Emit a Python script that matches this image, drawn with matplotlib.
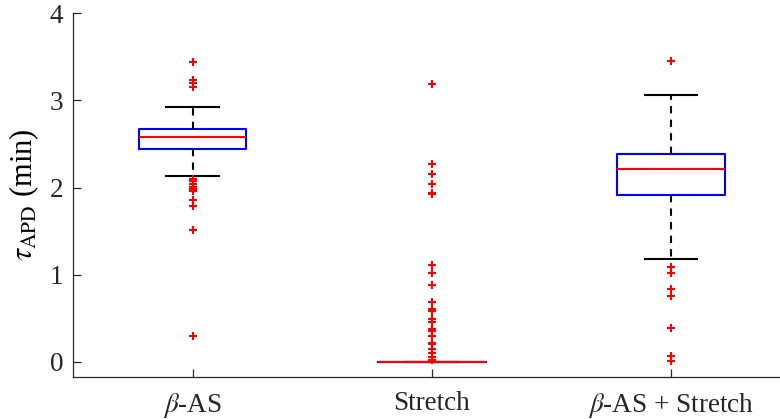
import matplotlib
matplotlib.use("Agg")
import matplotlib.pyplot as plt

plt.rcParams["font.family"] = ["Liberation Serif", "DejaVu Serif"]
plt.rcParams["mathtext.fontset"] = "stix"

# groups and box statistics (tau_APD, minutes)
labels = [r"$\beta$-AS", "Stretch", r"$\beta$-AS + Stretch"]
q1 = [2.44, 0.0, 1.91]
med = [2.58, 0.0, 2.21]
q3 = [2.67, 0.0, 2.39]
whislo = [2.13, 0.0, 1.18]
whishi = [2.92, 0.0, 3.06]

fliers_as = [3.44, 3.24, 3.20, 3.15, 2.10, 2.07, 2.04, 2.01, 1.98, 1.96,
             1.86, 1.79, 1.51, 0.30]
fliers_stretch = [3.19, 2.27, 2.16, 2.04, 1.94, 1.92, 1.11, 1.02, 0.88,
                  0.69, 0.61, 0.58, 0.49, 0.46, 0.38, 0.35, 0.29, 0.22,
                  0.20, 0.15, 0.10, 0.06, 0.02]
fliers_both = [3.45, 1.09, 1.02, 0.84, 0.75, 0.39, 0.07, 0.01]
fliers = [fliers_as, fliers_stretch, fliers_both]

stats = []
for i in range(len(labels)):
    stats.append({
        "label": labels[i],
        "q1": q1[i], "med": med[i], "q3": q3[i],
        "whislo": whislo[i], "whishi": whishi[i],
        "fliers": fliers[i],
    })

fig = plt.figure(figsize=(7.8, 4.19), dpi=100)
ax = fig.add_axes([73 / 780, 1 - 377 / 419, 717.5 / 780, (377 - 13.3) / 419])

ax.bxp(
    stats,
    positions=[1, 2, 3],
    widths=0.45,
    showfliers=True,
    boxprops=dict(color="blue", linewidth=1.5),
    medianprops=dict(color="red", linewidth=1.5),
    whiskerprops=dict(color="black", linestyle=(0, (3.5, 3)), linewidth=1.5),
    capprops=dict(color="black", linewidth=1.5),
    capwidths=0.22,
    flierprops=dict(marker="+", markeredgecolor="red", markersize=6,
                    markeredgewidth=1.5, linestyle="none"),
)

ax.set_xlim(0.5, 3.5)
ax.set_ylim(-0.175, 4)
ax.set_yticks([0, 1, 2, 3, 4])
ax.set_ylabel(r"$\tau_{\mathrm{APD}}$ (min)", fontsize=22, labelpad=6)

ax.spines["top"].set_visible(False)
ax.spines["right"].set_visible(False)
for s in ["left", "bottom"]:
    ax.spines[s].set_color("#262626")
    ax.spines[s].set_linewidth(0.9)
ax.tick_params(direction="in", length=6, width=0.9, colors="#262626",
               labelsize=19.5, labelcolor="#262626")
ax.tick_params(axis="x", pad=10)
ax.tick_params(axis="y", pad=7)

fig.savefig("out.png", dpi=100)
